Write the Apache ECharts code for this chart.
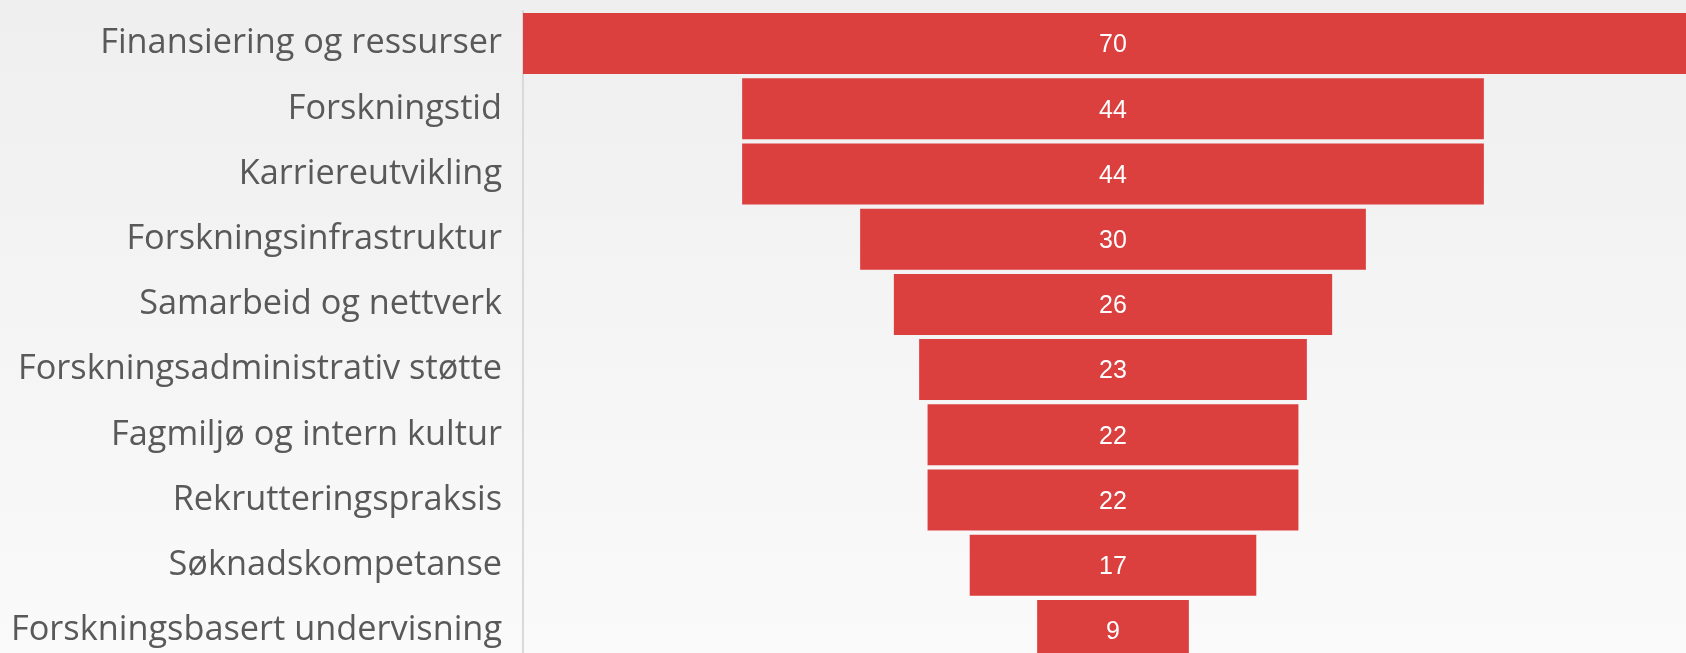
<!DOCTYPE html>
<html>
<head>
<meta charset="utf-8">
<script src="https://cdn.jsdelivr.net/npm/echarts@6/dist/echarts.min.js"></script>
<style>
html,body{margin:0;padding:0;width:100%;height:100%;overflow:hidden;}
#chart{width:1686px;height:653px;}
</style>
</head>
<body>
<div id="chart"></div>
<script>
var categories = [
  "Finansiering og ressurser",
  "Forskningstid",
  "Karriereutvikling",
  "Forskningsinfrastruktur",
  "Samarbeid og nettverk",
  "Forskningsadministrativ støtte",
  "Fagmiljø og intern kultur",
  "Rekrutteringspraksis",
  "Søknadskompetanse",
  "Forskningsbasert undervisning"
];
var values = [70, 44, 44, 30, 26, 23, 22, 22, 17, 9];

var maxValue = Math.max.apply(null, values);
var offsets = values.map(function (v) { return (maxValue - v) / 2; });

var chart = echarts.init(document.getElementById('chart'));
chart.setOption({
  backgroundColor: new echarts.graphic.LinearGradient(0, 0, 0, 1, [
    { offset: 0, color: '#efefef' },
    { offset: 1, color: '#fafafa' }
  ]),
  animation: false,
  grid: { left: 523, top: 11, width: 1180, height: 652, containLabel: false, outerBoundsMode: 'none' },
  xAxis: {
    type: 'value', min: 0, max: maxValue,
    show: false
  },
  yAxis: {
    type: 'category',
    inverse: true,
    data: categories,
    axisLine: { show: true, lineStyle: { color: '#d9d9d9', width: 2 } },
    axisTick: { show: false },
    axisLabel: {
      fontFamily: 'Open Sans',
      fontSize: 34.3,
      color: '#595959',
      margin: 21,
      padding: [8, 0, 0, 0]
    },
    splitLine: { show: false }
  },
  series: [
    {
      type: 'bar',
      stack: 'f',
      data: offsets,
      barWidth: 61,
      itemStyle: { color: 'rgba(0,0,0,0)' },
      silent: true
    },
    {
      type: 'bar',
      stack: 'f',
      data: values,
      barWidth: 61,
      itemStyle: { color: '#db3f3e' },
      label: {
        show: true,
        position: 'inside',
        color: '#ffffff',
        fontFamily: 'Liberation Sans',
        fontSize: 25,
        offset: [0, 2]
      }
    }
  ]
});
</script>
</body>
</html>
